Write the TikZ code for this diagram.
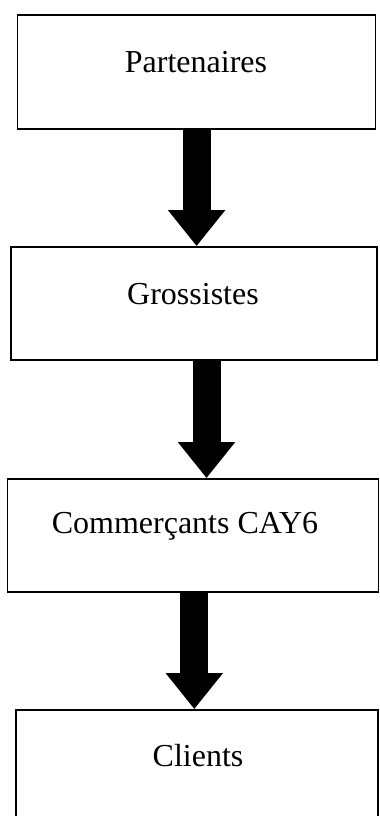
\documentclass[tikz,border=0pt]{standalone}
\usepackage{fontspec}
\setmainfont{Liberation Serif}
\usetikzlibrary{arrows.meta}
\tikzset{
  box/.style={draw=black, line width=1.8bp, inner sep=0pt, fill=white},
  lbl/.style={inner sep=0pt, anchor=base, font=\fontsize{32bp}{38bp}\selectfont},
  bigarrow/.style={line width=28bp, line cap=butt, -{Triangle[width=55bp,length=36bp]}}
}
\begin{document}
\begin{tikzpicture}[x=1bp,y=-1bp]
\useasboundingbox (0,0) rectangle (379,816);
\clip (0,0) rectangle (379,816);
% boxes (centres, sizes in px)
\node[box, minimum width=358bp, minimum height=114bp] (b1) at (196.5,72) {};
\node[box, minimum width=366bp, minimum height=113bp] (b2) at (193.9,303.5) {};
\node[box, minimum width=371bp, minimum height=113bp] (b3) at (193.0,535.5) {};
\node[box, minimum width=362bp, minimum height=114bp] (b4) at (196.8,767) {};
% labels
\node[lbl] (t1) at (196,72.7) {Partenaires};
\node[lbl] (t2) at (193,304) {Grossistes};
\node[lbl] (t3) at (185,533) {Commerçants CAY6};
\node[lbl] (t4) at (198,766.7) {Clients};
% arrows
\coordinate (a1) at (196.6,0);
\coordinate (a2) at (206.5,0);
\coordinate (a3) at (194.3,0);
\draw[bigarrow] (b1.south -| a1) -- (b2.north -| a1);
\draw[bigarrow] (b2.south -| a2) -- (b3.north -| a2);
\draw[bigarrow] (b3.south -| a3) -- (b4.north -| a3);
\end{tikzpicture}
\end{document}
